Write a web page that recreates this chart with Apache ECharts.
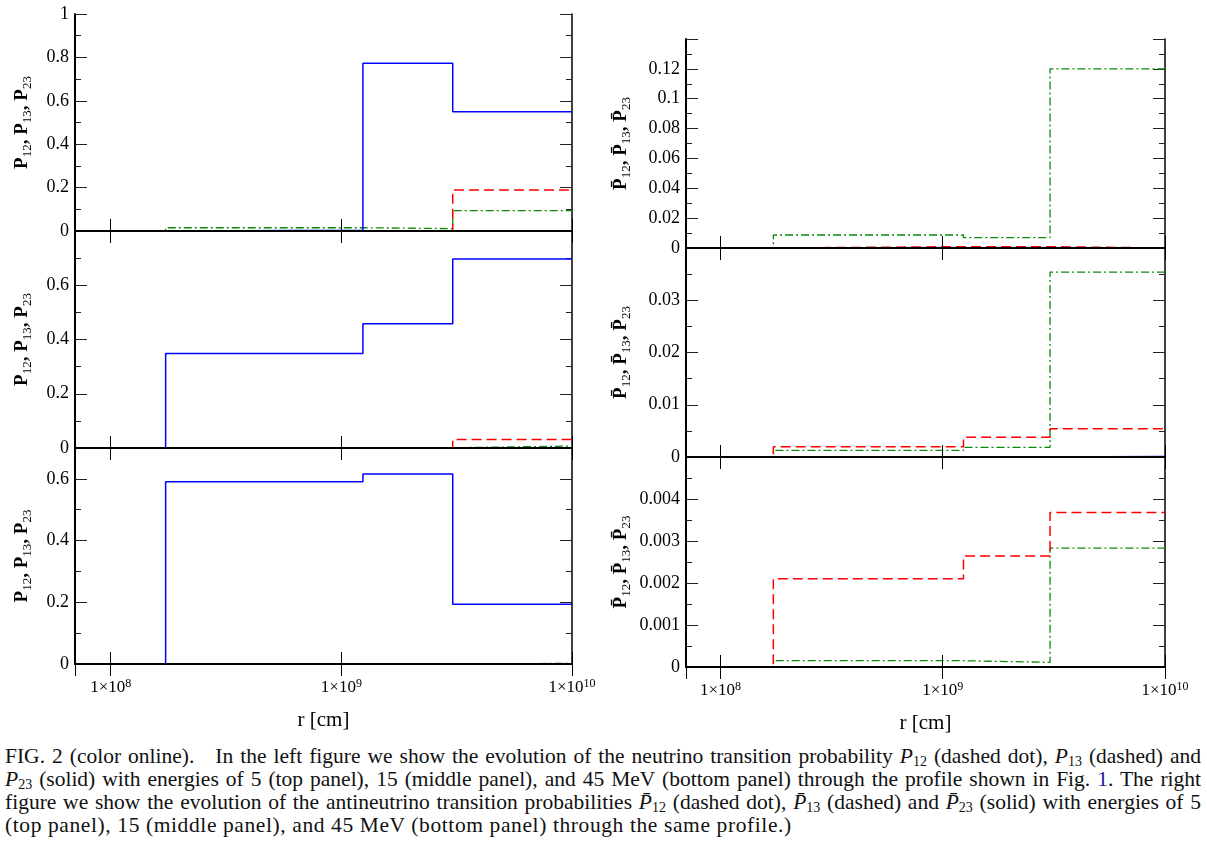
<!DOCTYPE html>
<html><head><meta charset="utf-8">
<script src="https://cdn.jsdelivr.net/npm/echarts@6/dist/echarts.min.js"></script>
<style>
html,body{margin:0;padding:0;background:#fff;}
#chart{position:absolute;left:0;top:0;width:1207px;height:740px;}
#cap{position:absolute;left:5px;top:745px;width:1196px;font-family:"Liberation Serif",serif;font-size:21.5px;line-height:23px;color:#111;}
#cap .l{text-align:justify;text-align-last:justify;white-space:nowrap;}
#cap .last{text-align:left;white-space:nowrap;letter-spacing:0.6px;}
#cap sub{font-size:14px;line-height:0;vertical-align:-3px;}
</style></head>
<body>
<div id="chart"></div>
<div id="cap">
<div class="l">FIG. 2 (color online).&nbsp;&nbsp; In the left figure we show the evolution of the neutrino transition probability <i>P</i><sub>12</sub> (dashed dot), <i>P</i><sub>13</sub> (dashed) and</div>
<div class="l"><i>P</i><sub>23</sub> (solid) with energies of 5 (top panel), 15 (middle panel), and 45 MeV (bottom panel) through the profile shown in Fig. <span style="color:#2020a0">1</span>. The right</div>
<div class="l">figure we show the evolution of the antineutrino transition probabilities <i>P&#772;</i><sub>12</sub> (dashed dot), <i>P&#772;</i><sub>13</sub> (dashed) and <i>P&#772;</i><sub>23</sub> (solid) with energies of 5</div>
<div class="last">(top panel), 15 (middle panel), and 45 MeV (bottom panel) through the same profile.)</div>
</div>
<script>
// r [cm] boundaries of the piecewise-constant segments
const edges = [7e7, 1.73e8, 1.24e9, 3.04e9, 1e10];
// neutrino (left) panels: 5, 15, 45 MeV
const nuTopP12 = [0, 0.015, 0.011, 0.094];
const nuTopP13 = [0, 0, 0, 0.189];
const nuTopP23 = [0, 0.004, 0.773, 0.55];
const nuMidP12 = [0, 0.001, 0.001, 0.007];
const nuMidP13 = [0, 0, 0, 0.031];
const nuMidP23 = [0, 0.348, 0.458, 0.697];
const nuBotP12 = [0, 0, 0, 0.002];
const nuBotP13 = [0, 0, 0, 0.001];
const nuBotP23 = [0, 0.591, 0.616, 0.194];
// antineutrino (right) panels
const anTopP12 = [0, 0.0087, 0.0069, 0.12];
const anTopP13 = [0, 0.0009, 0.0009, 0];
const anTopP23 = [0, 0, 0, 0];
const anMidP12 = [0, 0.00126, 0.00183, 0.0354];
const anMidP13 = [0, 0.00197, 0.0038, 0.0054];
const anMidP23 = [0, 0, 0, 0.0001];
const anBotP12 = [0, 0.00015, 0.00011, 0.00283];
const anBotP13 = [0, 0.0021, 0.00264, 0.00368];
const anBotP23 = [0, 0, 0, 0];
// y axis ranges
const yMaxes = [1, 0.8, 0.7, 0.14, 0.04, 0.005];
const yIntervals = [0.2, 0.2, 0.2, 0.02, 0.01, 0.001];
const xMin = 7e7, xMax = 1e10;
const xTitle = 'r [cm]';
const yTitleNu = '{b|P}{s|12}{b|, P}{s|13}{b|, P}{s|23}';
const yTitleAn = '{b|P\u0304}{s|12}{b|, P\u0304}{s|13}{b|, P\u0304}{s|23}';

const panels = [
  [nuTopP12, nuTopP13, nuTopP23], [nuMidP12, nuMidP13, nuMidP23], [nuBotP12, nuBotP13, nuBotP23],
  [anTopP12, anTopP13, anTopP23], [anMidP12, anMidP13, anMidP23], [anBotP12, anBotP13, anBotP23]
];

const FONT = 'Liberation Serif';
const grids = [
  {left:75, top:14, width:497, height:217},
  {left:75, top:231, width:497, height:217},
  {left:75, top:448, width:497, height:216},
  {left:686, top:39, width:479, height:209},
  {left:686, top:248, width:479, height:209},
  {left:686, top:457, width:479, height:210}
];

function steps(vals){ return edges.map((x,i)=>[x, vals[Math.min(i, vals.length-1)]]); }

function xLabelFmt(v){
  const e = Math.log10(v);
  if (Math.abs(e - Math.round(e)) > 0.01) return '';
  return '1×10{sup|' + Math.round(e) + '}';
}

const xAxes = [], yAxes = [], series = [];
const styles = [
  {color:'#0a8a0a', type:[8,3,2,3], width:1.3},
  {color:'#ff0000', type:[10,5], width:1.5},
  {color:'#0000ff', type:'solid', width:1.5}
];

grids.forEach((g, i) => {
  const isBottom = (i === 2 || i === 5);
  const isLeft = i < 3;
  const common = {
    type:'log', logBase:10, min:xMin, max:xMax, gridIndex:i,
    axisLine:{show:true, lineStyle:{color:'#000', width:2}},
    axisTick:{show:true, inside:true, length:12, lineStyle:{color:'#000', width:1}},
    minorTick:{show:false}, splitLine:{show:false}
  };
  xAxes.push(Object.assign({}, common, {
    position:'bottom', z:10,
    axisLabel:{show:isBottom, formatter:xLabelFmt, fontFamily:FONT, fontSize:17, color:'#000', margin:14,
      lineHeight:20, rich:{sup:{fontSize:12, fontFamily:FONT, color:'#000', verticalAlign:'top', lineHeight:12}}},
    name: isBottom ? xTitle : '', nameLocation:'middle', nameGap:46,
    nameTextStyle:{fontFamily:FONT, fontSize:21, color:'#000'}
  }));
  xAxes.push(Object.assign({}, common, {
    position:'top', z:10, axisLine:{show:true, lineStyle:{color:'#000', width:1.5}},
    axisLabel:{show:false}
  }));
  const yCommon = {
    type:'value', min:0, max:yMaxes[i], interval:yIntervals[i], gridIndex:i,
    axisLine:{show:true, onZero:false, lineStyle:{color:'#000', width:2}},
    axisTick:{show:true, inside:true, length:12, lineStyle:{color:'#222', width:1}},
    minorTick:{show:true, splitNumber:2, length:6, lineStyle:{color:'#222', width:1}},
    splitLine:{show:false}, minorSplitLine:{show:false}
  };
  yAxes.push(Object.assign({}, yCommon, {
    position:'left',
    axisLabel:{show:true, showMaxLabel: i === 0, fontFamily:FONT, fontSize:18, color:'#000', margin:6},
    name: isLeft ? yTitleNu : yTitleAn, nameLocation:'middle', nameRotate:90,
    nameGap: isLeft ? 41 : 53,
    nameTextStyle:{fontFamily:FONT, fontSize:18, color:'#000', lineHeight:24,
      rich:{b:{fontFamily:FONT, fontSize:19, fontWeight:'bold', color:'#000', lineHeight:24, verticalAlign:'middle'},
            s:{fontFamily:FONT, fontSize:13, color:'#000', lineHeight:12, verticalAlign:'bottom'}}}
  }));
  yAxes.push(Object.assign({}, yCommon, {
    position:'right', axisLabel:{show:false}, axisLine:{show:true, onZero:false, lineStyle:{color:'#000', width:1.5}}
  }));
  panels[i].forEach((vals, k) => {
    series.push({
      type:'line', xAxisIndex:2*i, yAxisIndex:2*i, step:'end', data:steps(vals),
      symbol:'none', showSymbol:false, silent:true, z:2+k,
      lineStyle:{color:styles[k].color, type:styles[k].type, width:styles[k].width}
    });
  });
});

const chart = echarts.init(document.getElementById('chart'), null, {renderer:'canvas'});
chart.setOption({
  animation:false,
  backgroundColor:'#fff',
  grid: grids.map(g => Object.assign({show:false, containLabel:false}, g)),
  xAxis: xAxes, yAxis: yAxes, series: series
});
</script>
</body></html>
